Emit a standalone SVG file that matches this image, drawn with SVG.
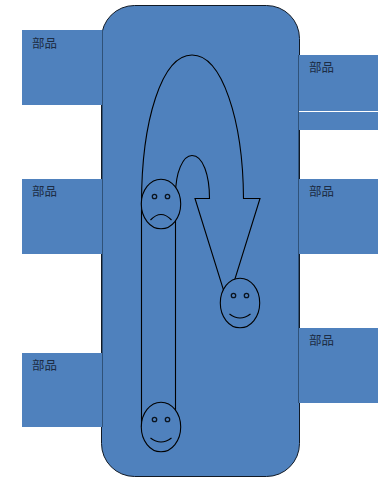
<svg xmlns="http://www.w3.org/2000/svg" width="390" height="477" viewBox="0 0 390 477">
<style>
.box{fill:#4f81bd}
.line{fill:none;stroke:#000;stroke-width:1.100}
.face{fill:#4f81bd;stroke:#000;stroke-width:1.100}
.eye{fill:none;stroke:#0a1420;stroke-width:1.300}
.t{font-family:"Noto Sans CJK SC","Noto Sans CJK JP",sans-serif;font-size:12.500px;fill:#1c2c44}
</style>
<rect width="390" height="477" fill="#fff"/>
<g id="main"><rect x="101.500" y="5.500" width="198" height="471" rx="33" ry="33" fill="#4f81bd" stroke="#111a26" stroke-width="1"/></g>
<g id="left-1"><rect class="box" x="22" y="30" width="80" height="75"/><text class="t" x="32" y="48">部品</text></g>
<g id="left-2"><rect class="box" x="22" y="179" width="80" height="75"/><text class="t" x="32" y="196">部品</text></g>
<g id="left-3"><rect class="box" x="22" y="353" width="80" height="74"/><text class="t" x="32" y="370">部品</text></g>
<g id="right-1"><rect class="box" x="299" y="55" width="79" height="75"/><rect x="299" y="111" width="79" height="1" fill="#fff"/><text class="t" x="309" y="72">部品</text></g>
<g id="right-2"><rect class="box" x="299" y="179" width="79" height="75"/><text class="t" x="309" y="196">部品</text></g>
<g id="right-3"><rect class="box" x="299" y="328" width="79" height="75"/><text class="t" x="309" y="345">部品</text></g>
<g fill="none" stroke="#2f5279" stroke-width="1"><path d="M102.500 30V427M298.500 55V403"/></g>
<g id="connectors">
<path class="line" d="M141.500 427V204C141.500 120 162 55 192 55C222 55 243 120 243.500 198.500H260L227.500 303L195 198.500H209.500C209.500 175 203 155.500 192 155.500C183 155.500 175.500 172 175.500 195V427"/>
</g>
<g id="face-sad"><ellipse class="face" cx="161" cy="204" rx="19.700" ry="24.800"/><circle class="eye" cx="154.500" cy="196.500" r="2.200"/><circle class="eye" cx="167.500" cy="196.500" r="2.200"/><path class="line" d="M150.500 220Q161 209 171.500 220"/></g>
<g id="face-smile-bottom"><ellipse class="face" cx="161" cy="427" rx="19.700" ry="24.800"/><circle class="eye" cx="154.500" cy="419.500" r="2.200"/><circle class="eye" cx="167.500" cy="419.500" r="2.200"/><path class="line" d="M150.500 438Q161 446 171.500 438"/></g>
<g id="face-smile-right"><ellipse class="face" cx="240" cy="303" rx="19.700" ry="24.800"/><circle class="eye" cx="233.500" cy="295.500" r="2.200"/><circle class="eye" cx="246.500" cy="295.500" r="2.200"/><path class="line" d="M229.500 314Q240 322 250.500 314"/></g>
</svg>
